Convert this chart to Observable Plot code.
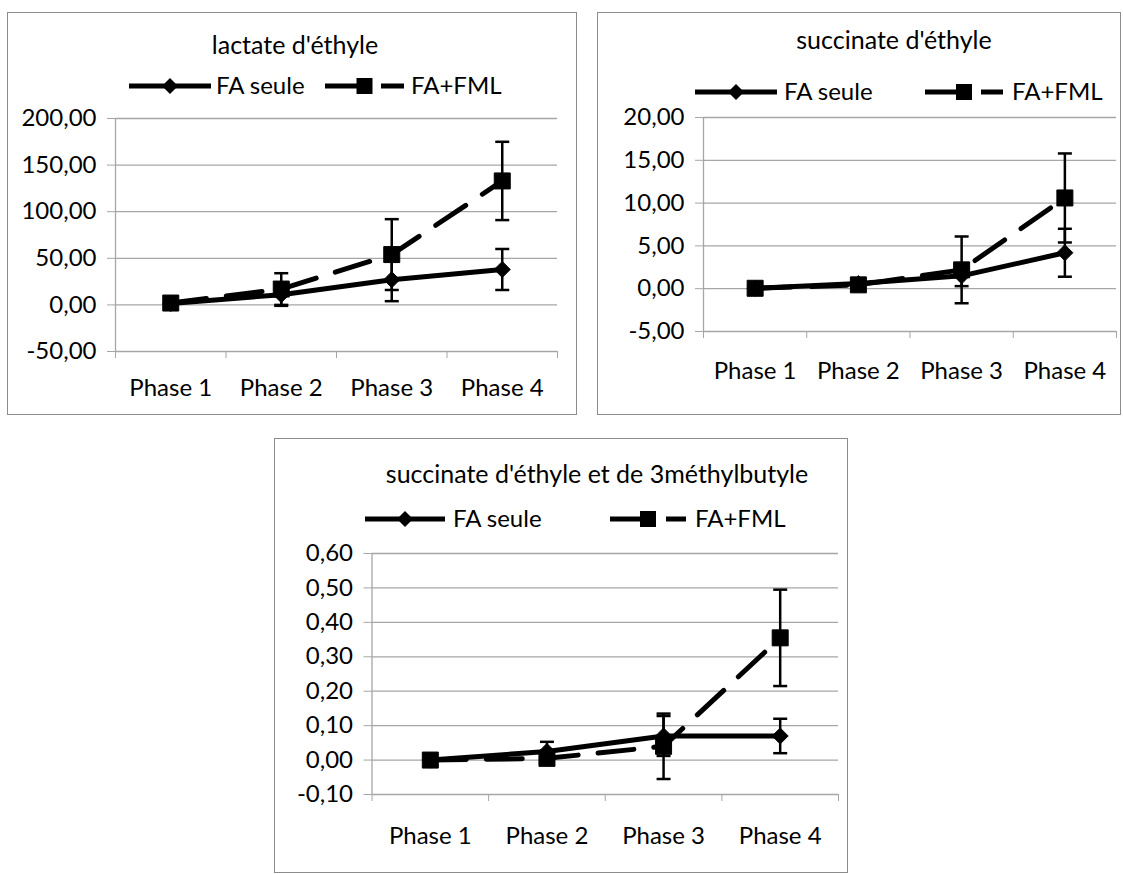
<!DOCTYPE html>
<html>
<head>
<meta charset="utf-8">
<script src="https://cdn.jsdelivr.net/npm/d3@7"></script>
<script src="https://cdn.jsdelivr.net/npm/@observablehq/plot@0.6"></script>
<style>
  html, body { margin: 0; padding: 0; background: #fff; }
  #root { position: relative; width: 1123px; height: 874px; overflow: hidden; font-family: Lato, "Open Sans", sans-serif; color: #000; }
  .frame { position: absolute; box-sizing: border-box; border: 1.5px solid #8c8c8c; }
  .title { position: absolute; width: 600px; text-align: center; font-size: 25px; line-height: 26px; white-space: nowrap; }
  .ltext { position: absolute; font-size: 24px; line-height: 24px; white-space: nowrap; }
  .lsample { position: absolute; overflow: visible; }
  .plot { position: absolute; }
</style>
</head>
<body>
<div id="root"></div>
<script>
// ---------- data ----------
const phases = ["Phase 1", "Phase 2", "Phase 3", "Phase 4"];
const seriesNames = ["FA seule", "FA+FML"];

// lactate d'éthyle
const lactateSeule    = [1.5, 11, 27, 38];
const lactateSeuleErr = [1, 12, 23, 22];
const lactateFML      = [2, 17, 54, 133];
const lactateFMLErr   = [1, 17, 38, 42];
const lactateTicks    = [-50, 0, 50, 100, 150, 200];

// succinate d'éthyle
const succinateSeule    = [0.05, 0.6, 1.5, 4.2];
const succinateSeuleErr = [0.05, 0.2, 1.2, 2.8];
const succinateFML      = [0.05, 0.45, 2.2, 10.6];
const succinateFMLErr   = [0.05, 0.15, 3.9, 5.2];
const succinateTicks    = [-5, 0, 5, 10, 15, 20];

// succinate d'éthyle et de 3méthylbutyle
const mixteSeule    = [0, 0.025, 0.07, 0.07];
const mixteSeuleErr = [0.002, 0.028, 0.058, 0.05];
const mixteFML      = [0, 0.005, 0.04, 0.355];
const mixteFMLErr   = [0.002, 0.004, 0.095, 0.14];
const mixteTicks    = [-0.1, 0, 0.1, 0.2, 0.3, 0.4, 0.5, 0.6];

// ---------- styles ----------
const GRID = "#a6a6a6";
const DASH = "36,20";
const LW = 5;
const fmt = v => v.toFixed(2).replace(".", ",");

const capSym = { draw(ctx, size) { const r = Math.sqrt(size / Math.PI); ctx.moveTo(-r, 0); ctx.lineTo(r, 0); } };
const diamondSym = { draw(ctx, size) { const r = Math.sqrt(size / Math.PI); ctx.moveTo(0, -r); ctx.lineTo(r, 0); ctx.lineTo(0, r); ctx.lineTo(-r, 0); ctx.closePath(); } };
const squareSym = { draw(ctx, size) { const r = Math.sqrt(size / Math.PI); ctx.rect(-r, -r, 2 * r, 2 * r); } };

function rows(vals, errs) {
  return phases.map((p, i) => ({ phase: p, x: i + 0.5, y: vals[i], err: errs[i] }));
}

function seriesMarks(data, symbol, r, dash) {
  return [
    Plot.line(data, { x: "x", y: "y", stroke: "#000", strokeWidth: LW, strokeDasharray: dash, strokeLinejoin: "round" }),
    Plot.ruleX(data, { x: "x", y1: d => d.y - d.err, y2: d => d.y + d.err, stroke: "#000", strokeWidth: 2.5 }),
    Plot.dot(data, { x: "x", y: d => d.y + d.err, symbol: capSym, r: 7, stroke: "#000", strokeWidth: 2.5, fill: "none" }),
    Plot.dot(data, { x: "x", y: d => d.y - d.err, symbol: capSym, r: 7, stroke: "#000", strokeWidth: 2.5, fill: "none" }),
    Plot.dot(data, { x: "x", y: "y", symbol, r, fill: "#000", stroke: "#000", strokeWidth: 1 })
  ];
}

const root = document.getElementById("root");

function legendItem(y, sx, tx, name, sym, dash) {
  const w = sx[1] - sx[0];
  const ns = "http://www.w3.org/2000/svg";
  const svg = document.createElementNS(ns, "svg");
  svg.setAttribute("class", "lsample");
  svg.setAttribute("width", w);
  svg.setAttribute("height", 20);
  svg.style.left = sx[0] + "px";
  svg.style.top = (y - 10) + "px";
  const line = document.createElementNS(ns, "line");
  line.setAttribute("x1", 0); line.setAttribute("x2", w);
  line.setAttribute("y1", 10); line.setAttribute("y2", 10);
  line.setAttribute("stroke", "#000"); line.setAttribute("stroke-width", LW);
  if (dash) line.setAttribute("stroke-dasharray", dash);
  svg.appendChild(line);
  const path = document.createElementNS(ns, "path");
  path.setAttribute("d", d3.symbol(sym, sym === squareSym ? 8 * 8 * Math.PI : 8 * 8 * Math.PI)());
  path.setAttribute("transform", `translate(${w / 2},10)`);
  path.setAttribute("fill", "#000");
  svg.appendChild(path);
  root.appendChild(svg);
  const t = document.createElement("div");
  t.className = "ltext";
  t.textContent = name;
  t.style.left = tx + "px";
  t.style.top = (y - 13) + "px";
  root.appendChild(t);
}

function panel(cfg) {
  const [fx, fy, fx2, fy2] = cfg.frame;
  const [px, py, px2, py2] = cfg.plot;
  const f = document.createElement("div");
  f.className = "frame";
  Object.assign(f.style, { left: fx + "px", top: fy + "px", width: (fx2 - fx) + "px", height: (fy2 - fy) + "px" });
  root.appendChild(f);

  const t = document.createElement("div");
  t.className = "title";
  t.textContent = cfg.title;
  t.style.left = (cfg.titleX - 300) + "px";
  t.style.top = (cfg.titleY - 14) + "px";
  root.appendChild(t);

  legendItem(cfg.legend.y, cfg.legend.s1, cfg.legend.t1, seriesNames[0], diamondSym, null);
  legendItem(cfg.legend.y, cfg.legend.s2, cfg.legend.t2, seriesNames[1], squareSym, DASH);

  const ticks = cfg.ticks;
  const seule = rows(cfg.seule, cfg.seuleErr);
  const fml = rows(cfg.fml, cfg.fmlErr);
  const chart = Plot.plot({
    width: fx2 - fx,
    height: fy2 - fy,
    marginLeft: px - fx,
    marginRight: fx2 - px2,
    marginTop: py - fy,
    marginBottom: fy2 - py2,
    x: { domain: [0, phases.length], label: null },
    y: { domain: [ticks[0], ticks[ticks.length - 1]], label: null },
    style: { fontFamily: "Lato, 'Open Sans', sans-serif", fontSize: "24px", color: "#000", background: "transparent", overflow: "visible" },
    marks: [
      Plot.gridY(ticks, { stroke: GRID, strokeOpacity: 1, strokeWidth: 1.3 }),
      Plot.ruleX([0], { stroke: GRID, strokeWidth: 1.3 }),
      Plot.axisY(ticks, { tickSize: 8, tickPadding: 11, tickFormat: fmt, stroke: GRID, fill: "#000", fontSize: 24 }),
      Plot.axisX(d3.range(phases.length + 1), { tickSize: 7, tickFormat: () => "", stroke: GRID }),
      Plot.axisX(phases.map((p, i) => i + 0.5), { tickSize: 0, tickPadding: cfg.labelPad, tickFormat: v => phases[Math.floor(v)], fill: "#000", fontSize: 24 }),
      ...seriesMarks(seule, diamondSym, 8, null),
      ...seriesMarks(fml, squareSym, 8, DASH)
    ]
  });
  chart.classList.add("plot");
  chart.style.left = fx + "px";
  chart.style.top = fy + "px";
  root.appendChild(chart);
}

panel({
  frame: [7, 12, 577, 415], plot: [115, 118, 557, 351], labelPad: 27,
  title: "lactate d'éthyle", titleX: 295, titleY: 45,
  legend: { y: 86, s1: [129, 211], t1: 216, s2: [325, 404], t2: 411 },
  ticks: lactateTicks, seule: lactateSeule, seuleErr: lactateSeuleErr, fml: lactateFML, fmlErr: lactateFMLErr
});
panel({
  frame: [597, 12, 1121, 415], plot: [703, 117, 1116, 331], labelPad: 30,
  title: "succinate d'éthyle", titleX: 894, titleY: 40,
  legend: { y: 92, s1: [695, 777], t1: 784, s2: [925, 1003], t2: 1012 },
  ticks: succinateTicks, seule: succinateSeule, seuleErr: succinateSeuleErr, fml: succinateFML, fmlErr: succinateFMLErr
});
panel({
  frame: [274, 438, 848, 873], plot: [371.5, 553, 838, 794], labelPad: 32,
  title: "succinate d'éthyle et de 3méthylbutyle", titleX: 597, titleY: 474,
  legend: { y: 519, s1: [365, 445], t1: 453, s2: [610, 686], t2: 695 },
  ticks: mixteTicks, seule: mixteSeule, seuleErr: mixteSeuleErr, fml: mixteFML, fmlErr: mixteFMLErr
});
</script>
</body>
</html>
